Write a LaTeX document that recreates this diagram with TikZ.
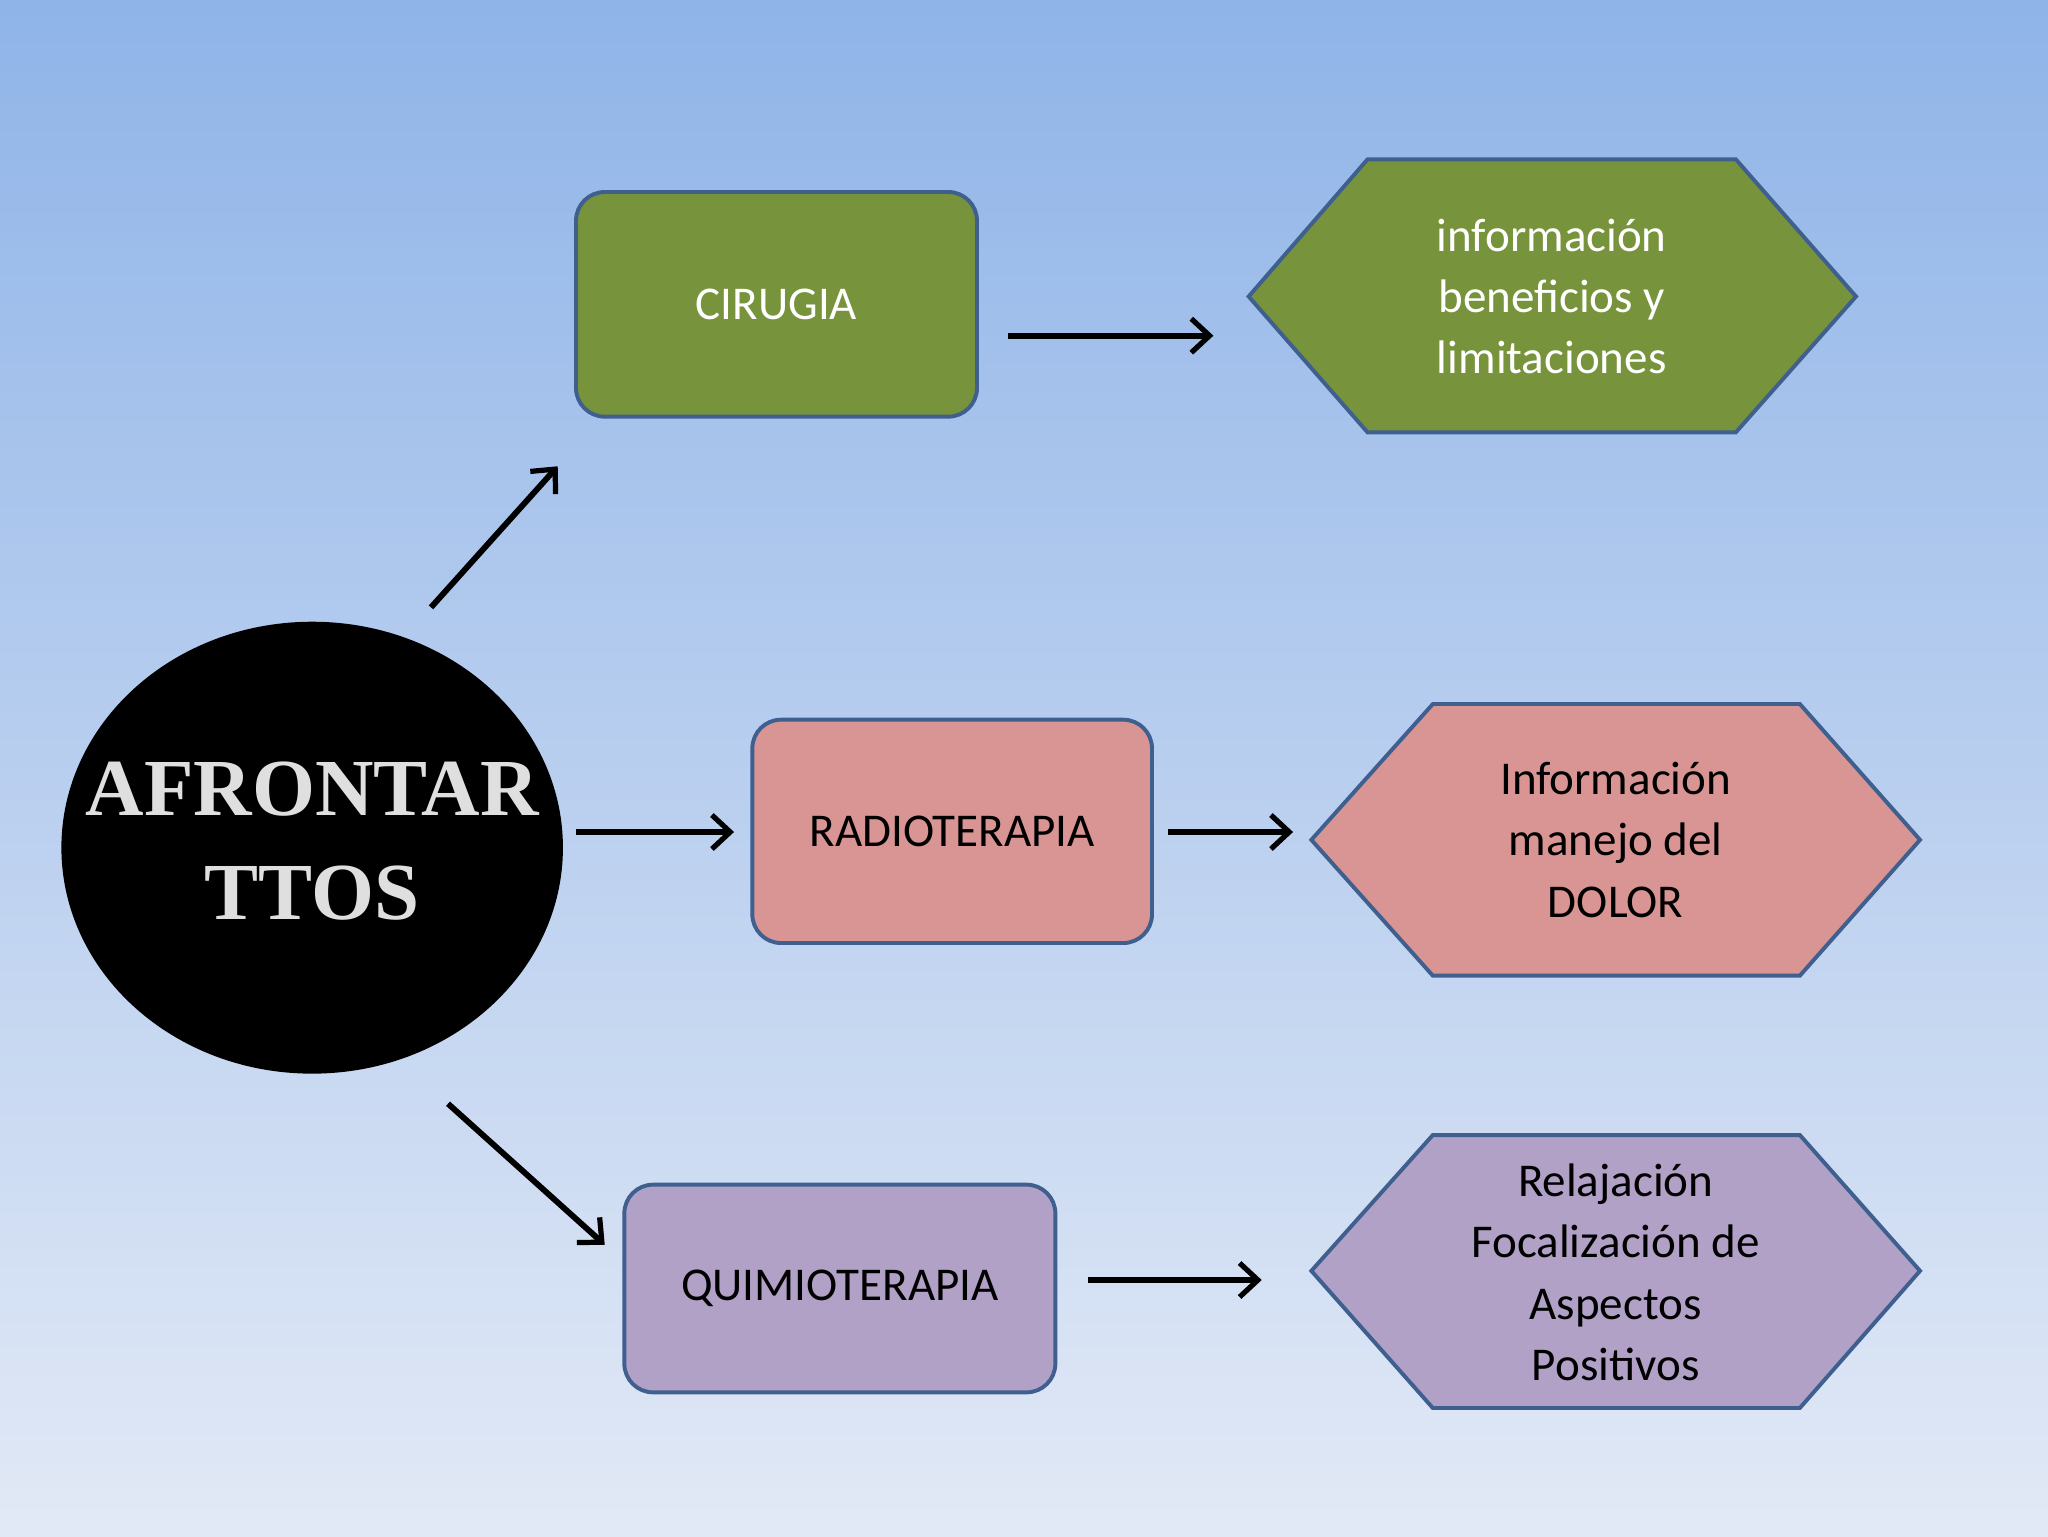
\documentclass[tikz,border=0pt]{standalone}
\usepackage{fontspec}
\setmainfont{Carlito}
\newfontfamily\deco{Liberation Serif}
\usetikzlibrary{arrows.meta,shapes.geometric}
\definecolor{bgtop}{HTML}{8FB4E8}
\definecolor{bgbot}{HTML}{E2E9F6}
\definecolor{edge}{HTML}{3F5F8F}
\definecolor{green}{HTML}{77933C}
\definecolor{rose}{HTML}{D99594}
\definecolor{lila}{HTML}{B2A1C7}
\tikzset{
  box/.style={draw=edge,line width=3pt,rounded corners=22pt,inner sep=0pt,font=\fontsize{36}{47}\selectfont},
  hexa/.style={draw=edge,line width=3pt,line join=miter},
  htext/.style={align=center,font=\fontsize{36}{47}\selectfont},
  arr/.style={line width=4.5pt,-{Straight Barb[length=14pt,width=26pt,line width=4pt]}}
}
\begin{document}
\begin{tikzpicture}[x=1pt,y=-1pt]
\useasboundingbox (0,0) rectangle (1568,1176);
\shade[top color=bgtop,bottom color=bgbot] (0,0) rectangle (1568,1176);
% central ellipse
\node[ellipse,fill=black,minimum width=384pt,minimum height=346pt,inner sep=0pt] (c) at (239,649) {};
\node[align=center,text=gray!25,font=\deco\bfseries\fontsize{62}{80}\selectfont] (ct) at (239,644) {AFRONTAR\\TTOS};
% boxes
\node[box,fill=green,text=white,minimum width=307pt,minimum height=172pt] (b1) at (594.5,233) {CIRUGIA};
\node[box,fill=rose,minimum width=306pt,minimum height=171pt] (b2) at (729,636.5) {RADIOTERAPIA};
\node[box,fill=lila,minimum width=330pt,minimum height=159pt] (b3) at (643,986.5) {QUIMIOTERAPIA};
% hexagons
\draw[hexa,fill=green] (956,227)--(1047,122)--(1329,122)--(1421,227)--(1329,331)--(1047,331)--cycle;
\node[htext,text=white] (h1) at (1188,227) {información\\beneficios y\\limitaciones};
\draw[hexa,fill=rose] (1004,643)--(1097,539)--(1378,539)--(1470,643)--(1378,747)--(1097,747)--cycle;
\node[htext] (h2) at (1237,643) {Información\\manejo del\\DOLOR};
\draw[hexa,fill=lila] (1004,973)--(1097,869)--(1378,869)--(1470,973)--(1378,1078)--(1097,1078)--cycle;
\node[htext] (h3) at (1237,974) {Relajación\\Focalización de\\Aspectos\\Positivos};
% arrows
\coordinate (a1s) at (330,465); \coordinate (a1e) at (427,357);
\coordinate (a2s) at (441,637); \coordinate (a2e) at (562,637);
\coordinate (a3s) at (343,845); \coordinate (a3e) at (463,953);
\coordinate (a4s) at (772,257); \coordinate (a4e) at (929,257);
\coordinate (a5s) at (894,637); \coordinate (a5e) at (990,637);
\coordinate (a6s) at (833,980); \coordinate (a6e) at (966,980);
\foreach \i in {1,...,6} {\draw[arr] (a\i s) -- (a\i e);}
\end{tikzpicture}
\end{document}
